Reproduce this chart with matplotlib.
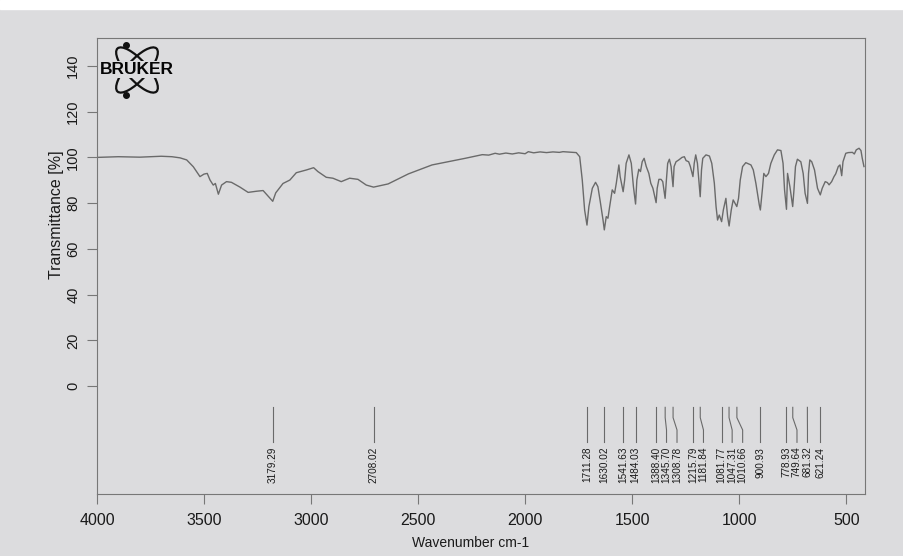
import matplotlib
matplotlib.use("Agg")
import matplotlib.pyplot as plt
from matplotlib.patches import Ellipse, Rectangle

# IR spectrum (wavenumber cm-1, transmittance %)
wavenumber = [4000, 3900, 3800, 3700, 3650, 3612, 3581, 3550, 3519, 3500, 3485, 3472,
              3457, 3447, 3433, 3418, 3395, 3372, 3332, 3294, 3255, 3224, 3200, 3179,
              3165, 3131, 3099, 3069, 3022, 2988, 2968, 2929, 2898, 2859, 2820, 2781,
              2742, 2708, 2640, 2545, 2435, 2360, 2280, 2240, 2200, 2170, 2140, 2120,
              2090, 2060, 2030, 2000, 1985, 1960, 1930, 1900, 1870, 1840, 1823, 1790,
              1761, 1745, 1733, 1722, 1711, 1702, 1686, 1671, 1660, 1649, 1636, 1630,
              1621, 1613, 1605, 1593, 1582, 1574, 1562, 1556, 1542, 1535, 1528, 1515,
              1504, 1494, 1484, 1478, 1469, 1461, 1453, 1444, 1434, 1422, 1413, 1403,
              1394, 1388, 1383, 1375, 1365, 1357, 1346, 1340, 1334, 1326, 1318, 1309,
              1304, 1295, 1282, 1267, 1256, 1248, 1236, 1228, 1216, 1210, 1203, 1195,
              1182, 1176, 1170, 1155, 1139, 1128, 1116, 1108, 1101, 1093, 1082, 1074,
              1062, 1054, 1047, 1037, 1028, 1011, 1003, 995, 984, 969, 945, 934,
              922, 906, 901, 891, 885, 875, 863, 852, 836, 821, 805, 795,
              788, 779, 774, 763, 750, 744, 737, 728, 712, 701, 692, 681,
              676, 670, 661, 648, 634, 621, 612, 598, 588, 580, 568, 557,
              549, 537, 529, 521, 515, 502, 490, 471, 462, 453, 440, 431,
              425, 417]
transmittance = [100.0, 100.3, 100.1, 100.5, 100.3, 99.8, 98.9, 95.9, 91.6, 92.7, 93.0, 90.1,
                 87.9, 88.6, 83.9, 87.9, 89.4, 89.1, 87.0, 84.7, 85.2, 85.5, 83.0, 80.8,
                 84.5, 88.6, 90.1, 93.3, 94.5, 95.5, 93.8, 91.3, 90.9, 89.4, 90.9, 90.4,
                 87.9, 87.0, 88.4, 92.8, 96.7, 98.1, 99.6, 100.4, 101.2, 101.0, 101.8, 101.4,
                 101.9, 101.5, 102.0, 101.6, 102.5, 102.0, 102.4, 102.1, 102.4, 102.2, 102.5, 102.3,
                 102.1, 100.3, 90.1, 77.0, 70.4, 78.5, 86.5, 89.1, 87.2, 80.7, 72.6, 68.3,
                 74.1, 73.4, 78.5, 85.8, 84.3, 88.7, 96.7, 91.6, 85.0, 90.1, 97.4, 101.1,
                 97.4, 87.2, 79.6, 90.1, 94.8, 93.8, 98.1, 99.6, 96.0, 93.0, 88.7, 86.5,
                 82.8, 80.2, 86.5, 90.4, 90.4, 89.4, 82.1, 90.1, 97.4, 99.2, 96.0, 87.2,
                 96.0, 98.1, 98.9, 100.0, 100.3, 98.6, 98.1, 96.0, 91.6, 97.4, 101.1, 97.4,
                 82.8, 94.5, 99.6, 101.1, 100.6, 97.4, 88.7, 78.5, 72.6, 74.8, 71.9, 77.0,
                 82.1, 74.1, 70.0, 77.0, 81.4, 78.5, 82.1, 90.1, 96.0, 97.7, 96.7, 94.5,
                 88.7, 79.2, 77.0, 86.5, 93.0, 91.6, 93.0, 97.4, 101.1, 103.3, 103.0, 97.4,
                 85.8, 77.3, 93.0, 87.2, 78.5, 85.8, 96.0, 99.2, 98.1, 93.0, 84.3, 79.9,
                 93.0, 98.9, 98.1, 94.5, 86.5, 83.6, 86.5, 89.4, 89.0, 88.0, 89.4, 91.6,
                 92.8, 96.0, 96.7, 92.0, 98.1, 101.8, 102.1, 102.2, 101.5, 103.3, 104.0, 103.0,
                 99.6, 96.0]

# picked peaks printed under the spectrum
peaks = [3179.29, 2708.02, 1711.28, 1630.02, 1541.63, 1484.03, 1388.40, 1345.70,
         1308.78, 1215.79, 1181.84, 1081.77, 1047.31, 1010.66, 900.93, 778.93,
         749.64, 681.32, 621.24]

x_ticks = [4000, 3500, 3000, 2500, 2000, 1500, 1000, 500]
y_ticks = [0, 20, 40, 60, 80, 100, 120, 140]

paper = "#dcdcde"
ink = "#1a1a1a"
line_grey = "#6a6a6a"

plt.rcParams["font.family"] = ["Liberation Sans", "DejaVu Sans"]

fig = plt.figure(figsize=(9.04, 5.56), dpi=100, facecolor=paper)
ax = fig.add_axes([0.1073, 0.1115, 0.8496, 0.8201])
ax.set_facecolor(paper)

ax.plot(wavenumber, transmittance, color=line_grey, lw=1.0)

ax.set_xlim(4000, 412)
ax.set_ylim(-47.2, 152.2)
ax.set_xticks(x_ticks)
ax.set_yticks(y_ticks)
ax.tick_params(axis="x", direction="out", length=7, width=0.8, color="#777777",
               labelsize=11.5, labelcolor=ink, pad=7)
ax.tick_params(axis="y", direction="out", length=7, width=0.8, color="#777777",
               labelsize=10.5, labelcolor=ink, labelrotation=90, pad=5)
for lbl in ax.get_yticklabels():
    lbl.set_va("center")
for sp in ax.spines.values():
    sp.set_color("#777777")
    sp.set_linewidth(0.8)

fig.text(471 / 904, 1 - 543 / 556, "Wavenumber cm-1", fontsize=10, color=ink,
         ha="center", va="center")
fig.text(57 / 904, 1 - 215 / 556, "Transmittance [%]", rotation=90, fontsize=11.5,
         color=ink, ha="center", va="center")

# peak markers: lines bend sideways when labels would collide
gap = 49
label_pos = []
for w in peaks:
    p = w if not label_pos else min(w, label_pos[-1] - gap)
    label_pos.append(p)
for w, p in zip(peaks, label_pos):
    ax.plot([w, w, p, p], [-9.3, -13.8, -19.2, -24.6], color=line_grey, lw=0.8)
    ax.text(p, -26.5, f"{w:.2f}", rotation=90, ha="center", va="top",
            fontsize=7.2, color=ink)

# Bruker logo in the top left corner
logo = fig.add_axes([(137 - 34) / 904, 1 - (70 + 30) / 556, 68 / 904, 60 / 556])
logo.set_xlim(-1.2, 1.2)
logo.set_ylim(-1.06, 1.06)
logo.axis("off")
for ang in (48, -48):
    logo.add_patch(Ellipse((0, 0), 2.05, 0.72, angle=ang, fill=False, lw=1.6, ec="#111111"))
logo.plot([-0.38, -0.38], [0.9, -0.9], "o", color="#111111", ms=4)
logo.text(0, 0.02, "BRUKER", ha="center", va="center", fontsize=12.5, fontweight="bold",
          color="#050505", bbox=dict(facecolor=paper, edgecolor="none", pad=0.5))

fig.add_artist(Rectangle((0, 1 - 9 / 556), 1, 9 / 556, transform=fig.transFigure,
                         color="white", zorder=-1))

fig.savefig("out.png", dpi=100, facecolor=paper)
